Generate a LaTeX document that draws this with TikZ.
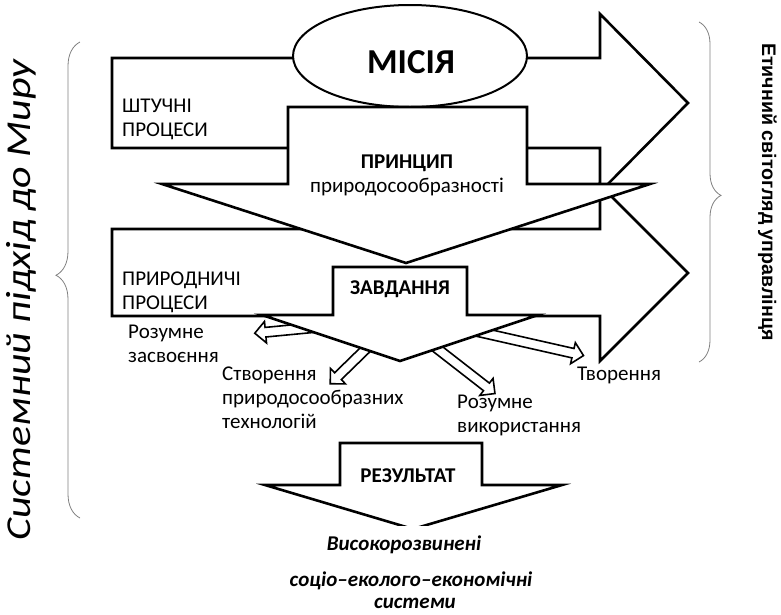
\documentclass[tikz,border=0pt]{standalone}
\usepackage{fontspec}
\setmainfont{Carlito}
\newfontfamily\sidefont{Liberation Sans}
\usetikzlibrary{positioning,shapes.geometric,shapes.arrows,decorations.pathreplacing}

\begin{document}
\begin{tikzpicture}[x=1pt,y=-1pt]
  \tikzset{
    blockarrow/.style={draw, fill=white, line width=2.6pt},
    txt/.style={font=\fontsize{21}{24}\selectfont, align=left, inner sep=0pt},
    heading/.style={font=\fontsize{21}{24}\selectfont\bfseries, inner sep=0pt},
    outcome/.style={font=\fontsize{21}{24}\selectfont\bfseries\itshape, inner sep=0pt},
    hollow/.style={single arrow, draw, fill=white, line width=1.6pt, sloped,
      allow upside down, inner xsep=0pt, inner ysep=4pt, minimum width=20pt,
      single arrow head extend=6pt, minimum height=#1},
    bracket/.style={decorate, decoration={brace, amplitude=#1, aspect=0.51},
      draw=gray, line width=0.8pt}
  }
  \useasboundingbox (0,0) rectangle (781,614);

  % process arrows
  \filldraw[blockarrow] (112,58) -- (600,58) -- (600,14) -- (688,103)
    -- (600,192) -- (600,148) -- (112,148) -- cycle;
  \filldraw[blockarrow] (112,229) -- (600,229) -- (600,185) -- (688,273)
    -- (600,361) -- (600,316) -- (112,316) -- cycle;

  \node[draw, fill=white, ellipse, line width=2pt, minimum width=234pt,
    minimum height=102pt] (misia) at (410,56) {};
  \node[font=\fontsize{35}{40}\selectfont\bfseries, inner sep=0pt] (misiatext)
    at (411,62) {МІСІЯ};

  % principle
  \filldraw[blockarrow] (288,107) -- (527,107) -- (527,184) -- (650,184)
    -- (406,263) -- (162,184) -- (288,184) -- cycle;

  % hollow arrows out of the task
  \coordinate (za) at (320,327); \coordinate (ta) at (257,333);
  \coordinate (zb) at (372,343); \coordinate (tb) at (332,382);
  \coordinate (zc) at (430,343); \coordinate (tc) at (493,392);
  \coordinate (zd) at (475,331); \coordinate (td) at (581,355);
  \path (za) -- node[hollow=63pt] (ha) {} (ta);
  \path (zb) -- node[hollow=56pt] (hb) {} (tb);
  \path (zc) -- node[hollow=80pt] (hc) {} (tc);
  \path (zd) -- node[hollow=109pt] (hd) {} (td);

  % task and result
  \filldraw[blockarrow] (333,267) -- (467,267) -- (467,315) -- (538,315)
    -- (400,361) -- (262,315) -- (333,315) -- cycle;
  \filldraw[blockarrow] (340,443) -- (482,443) -- (482,485) -- (562,485)
    -- (413,529) -- (265,485) -- (340,485) -- cycle;

  \node[txt, anchor=north west] (shtuchni) at (122,99) {ШТУЧНІ\\ПРОЦЕСИ};
  \node[txt, anchor=north west] (pryrodni) at (122,272) {ПРИРОДНИЧІ\\ПРОЦЕСИ};
  \node[txt, anchor=north, align=center] (pryncyp) at (407,155)
    {\textbf{ПРИНЦИП}\\природосообразності};
  \node[heading] (zavdannia) at (400,289) {ЗАВДАННЯ};
  \node[heading] (rezultat) at (408,476) {РЕЗУЛЬТАТ};

  \node[txt, anchor=north west] (zasvoennia) at (128,325) {Розумне\\засвоєння};
  \node[txt, anchor=north west] (stvorennia) at (222,367)
    {Створення\\природосообразних\\технологій};
  \node[txt, anchor=north west] (vykorystannia) at (457,395) {Розумне\\використання};
  \node[txt, anchor=north west] (tvorennia) at (577,367) {Творення};

  \node[outcome, fill=white, inner ysep=10pt] (vysoko) at (404,545) {Високорозвинені};
  \node[outcome] (socio) at (411,581) {соціо–еколого–економічні};
  \node[outcome] (systemy) at (415,603) {системи};

  % side braces
  \draw[bracket=24pt] (80,518) -- (80,42);
  \draw[bracket=22pt] (699,22) -- (699,362);
  \node[rotate=90, inner sep=0pt, font=\fontsize{35}{40}\selectfont\itshape] (pidhid)
    at (21,300) {\scalebox{1.2}[1]{Системний підхід до Миру}};
  \node[rotate=-90, anchor=base west, inner sep=0pt,
    font=\sidefont\fontsize{19.6}{24}\selectfont\bfseries]
    (svitohliad) at (762,43) {Етичний світогляд управлінця};
\end{tikzpicture}
\end{document}
